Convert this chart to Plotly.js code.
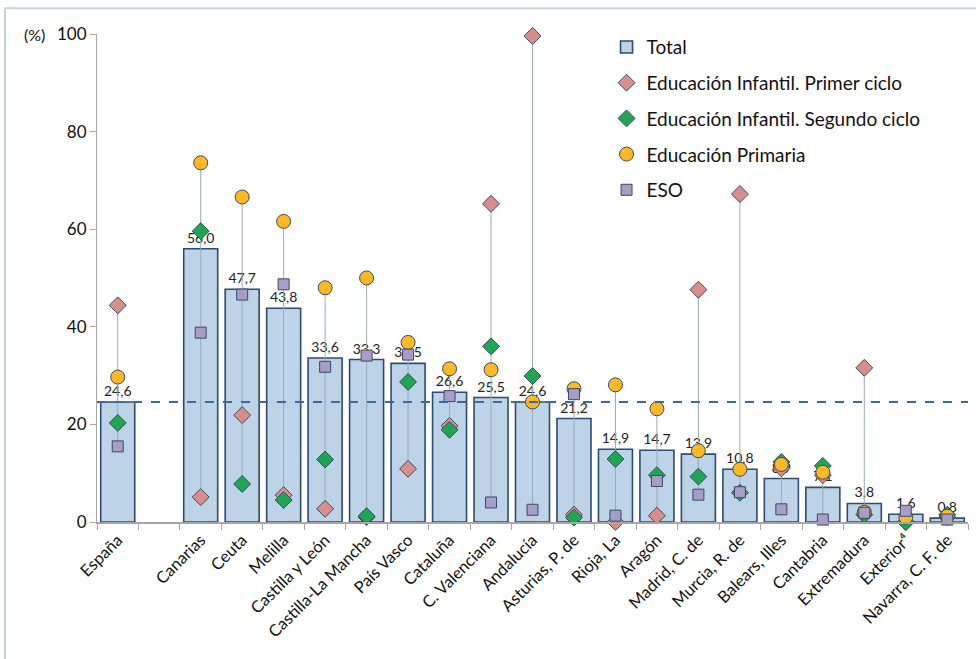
<!DOCTYPE html>
<html><head><meta charset="utf-8">
<script src="https://cdn.plot.ly/plotly-3.0.1.min.js"></script>
<style>html,body{margin:0;padding:0;background:#fff}</style>
</head><body><div id="chart" style="width:976px;height:659px"></div>
<script>
const categories = ["España"," ","Canarias","Ceuta","Melilla","Castilla y León","Castilla-La Mancha","País Vasco","Cataluña","C. Valenciana","Andalucía","Asturias, P. de","Rioja, La","Aragón","Madrid, C. de","Murcia, R. de","Balears, Illes","Cantabria","Extremadura","Exterior⁴","Navarra, C. F. de"];
const total     = [24.6,null,56.0,47.7,43.8,33.6,33.3,32.5,26.6,25.5,24.6,21.2,14.9,14.7,13.9,10.8,8.9,7.1,3.8,1.6,0.8];
const infPrimer = [44.4,null,5.1,21.9,5.5,2.7,1.0,10.9,19.7,65.2,99.6,1.5,0.0,1.3,47.6,67.2,11.0,9.6,31.6,0.0,1.0];
const infSegundo= [20.3,null,59.6,7.8,4.5,12.8,1.2,28.7,18.9,36.0,29.9,0.9,12.9,9.6,9.3,6.0,12.3,11.5,1.5,0.0,1.5];
const primaria  = [29.7,null,73.6,66.6,61.6,48.0,50.0,36.8,31.4,31.2,24.6,27.3,28.1,23.2,14.6,10.8,11.8,10.2,2.0,1.0,1.2];
const eso       = [15.5,null,38.8,46.6,48.7,31.8,34.1,34.3,25.8,4.0,2.5,26.2,1.3,8.4,5.6,6.1,2.6,0.5,1.9,2.3,0.5];
const refLine = total[0];
const totalLabels = total.map(v => v==null ? "" : v.toFixed(1).replace(".", ","));

const FONT = "Lato, Open Sans, sans-serif";
const traces = [];
traces.push({type:"bar", x:categories, y:total, name:"Total", text:totalLabels, textposition:"outside",
  cliponaxis:false, textfont:{size:14,color:"#222"}, legendgroup:"g0",
  marker:{color:"#BDD3E7", line:{color:"#2D4C6E", width:1.6}}, hoverinfo:"y"});
categories.forEach((c,i)=>{
  const vals=[total[i],infPrimer[i],infSegundo[i],primaria[i],eso[i]].filter(v=>v!=null);
  if(!vals.length) return;
  traces.push({type:"scatter", mode:"lines", x:[c,c], y:[Math.min(...vals),Math.max(...vals)],
    line:{color:"#9BABBA", width:1}, showlegend:false, hoverinfo:"skip", cliponaxis:false});
});
const mk=(name,y,symbol,color,size,g)=>({type:"scatter",mode:"markers",x:categories,y:y,name:name,cliponaxis:false,legendgroup:g,
  marker:{symbol:symbol,color:color,size:size,line:{color:"#3B4A5E",width:1}}});
traces.push(mk("Educación Infantil. Primer ciclo", infPrimer, "diamond", "#D98E8C", 13, "g1"));
traces.push(mk("Educación Infantil. Segundo ciclo", infSegundo, "diamond", "#1EA653", 13, "g2"));
traces.push(mk("Educación Primaria", primaria, "circle", "#FDB825", 14, "g3"));
traces.push(mk("ESO", eso, "square", "#A89CC8", 11, "g4"));

const layout = {
  width:976, height:659,
  margin:{l:97, r:8, t:34, b:137},
  paper_bgcolor:"#fff", plot_bgcolor:"#fff",
  font:{family:FONT, size:14, color:"#111"},
  bargap:0.18,
  showlegend:true,
  legend:{x:0.585, y:1.012, xanchor:"left", yanchor:"top", font:{size:19, family:FONT}, bgcolor:"rgba(0,0,0,0)", tracegroupgap:8, itemwidth:30},
  xaxis:{type:"category", range:[-0.5,20.5], tickangle:-45, tickson:"boundaries", ticks:"outside", ticklen:6, tickcolor:"#A6A6A6",
    showline:true, linecolor:"#A6A6A6", linewidth:2, showgrid:false, tickfont:{size:16.5}, fixedrange:true},
  yaxis:{range:[0,100], dtick:20, ticks:"outside", ticklen:6, tickcolor:"#A6A6A6", showline:true, linecolor:"#A6A6A6",
    linewidth:1, showgrid:false, zeroline:false, tickfont:{size:17}, fixedrange:true},
  shapes:[
    {type:"line", xref:"paper", x0:0, x1:1, yref:"y", y0:refLine, y1:refLine, line:{color:"#3E6A99", width:2, dash:"dash"}},
    {type:"rect", xref:"paper", yref:"paper", x0:-0.1056, x1:1.05, y0:-0.4, y1:1.053, line:{color:"#C5D3E0", width:2}, fillcolor:"rgba(0,0,0,0)", layer:"below"}
  ],
  annotations:[{text:"(%)", xref:"paper", yref:"paper", x:-0.057, y:1, xanchor:"right", yanchor:"middle", showarrow:false, font:{size:16}}]
};
Plotly.newPlot("chart", traces, layout, {displayModeBar:false, staticPlot:true});
</script></body></html>
